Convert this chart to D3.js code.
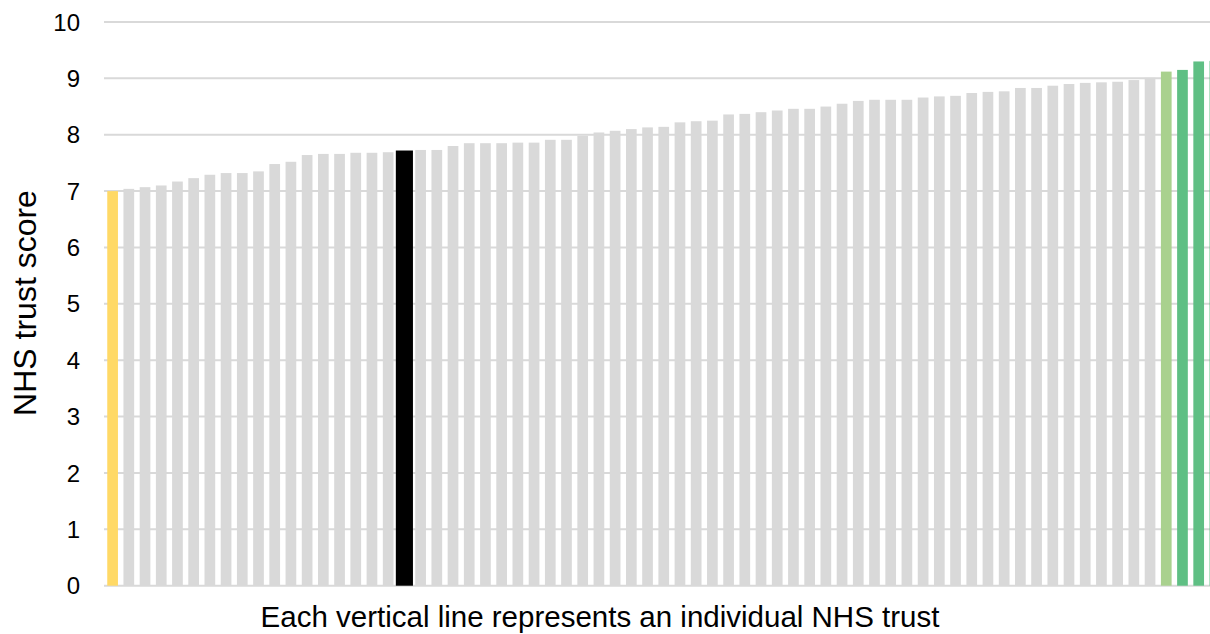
<!DOCTYPE html>
<html>
<head>
<meta charset="utf-8">
<script src="https://cdn.jsdelivr.net/npm/d3@7"></script>
<style>
html,body{margin:0;padding:0;background:#fff;overflow:hidden;}
svg{display:block;}
text{font-family:"Liberation Sans",Arial,sans-serif;fill:#000;}
</style>
</head>
<body>
<svg id="chart" width="1210" height="634"></svg>
<script>
// Data: NHS trust scores, sorted ascending (one bar per trust)
const scores = [
  7.00, 7.04, 7.07, 7.10, 7.17, 7.23, 7.29, 7.32, 7.32, 7.35,
  7.48, 7.52, 7.64, 7.66, 7.66, 7.68, 7.68, 7.69, 7.72, 7.73,
  7.73, 7.80, 7.85, 7.85, 7.85, 7.86, 7.86, 7.91, 7.91, 7.98,
  8.04, 8.07, 8.10, 8.13, 8.14, 8.22, 8.24, 8.25, 8.36, 8.37,
  8.40, 8.43, 8.46, 8.46, 8.50, 8.55, 8.60, 8.62, 8.62, 8.62,
  8.66, 8.68, 8.69, 8.74, 8.76, 8.77, 8.83, 8.83, 8.87, 8.90,
  8.92, 8.93, 8.94, 8.97, 9.01, 9.12, 9.15, 9.30, 9.31
];
const trusts = scores.map((_, i) => "Trust " + (i + 1));
// Highlight group for each trust (by position)
const groups = scores.map((_, i) =>
  i === 0 ? "lowest" :
  i === 18 ? "selected" :
  i === 65 ? "high" :
  i >= 66 ? "top" : "other");
const groupColors = { lowest: "#ffd966", selected: "#000000", high: "#a9d18e", top: "#5fbf84", other: "#d9d9d9" };
const yTicks = [0, 1, 2, 3, 4, 5, 6, 7, 8, 9, 10];
const yTitle = "NHS trust score";
const xTitle = "Each vertical line represents an individual NHS trust";

const svg = d3.select("#chart");
const x = d3.scaleBand().domain(trusts).range([104.5, 1223]).paddingInner(0.34).paddingOuter(0.17);
const y = d3.scaleLinear().domain([0, 10]).range([585.7, 22]);

// gridlines
svg.append("g").selectAll("line").data(yTicks).join("line")
  .attr("x1", 104).attr("x2", 1223)
  .attr("y1", d => y(d)).attr("y2", d => y(d))
  .attr("stroke", "#d9d9d9").attr("stroke-width", 2);

// y tick labels
svg.append("g").selectAll("text").data(yTicks).join("text")
  .attr("x", 80).attr("y", d => y(d))
  .attr("dy", "0.36em")
  .attr("text-anchor", "end")
  .style("font-size", "24px")
  .text(d => d);

// bars
const data = scores.map((v, i) => ({ name: trusts[i], value: v, group: groups[i] }));
svg.append("g").selectAll("rect").data(data).join("rect")
  .attr("x", d => d.group === "selected" ? x(d.name) - x.bandwidth() * 0.3 : x(d.name))
  .attr("width", d => d.group === "selected" ? x.bandwidth() * 1.6 : x.bandwidth())
  .attr("y", d => y(d.value))
  .attr("height", d => y(0) - y(d.value))
  .attr("fill", d => groupColors[d.group]);

// axis titles
svg.append("text")
  .attr("transform", "translate(36,303) rotate(-90)")
  .attr("text-anchor", "middle")
  .style("font-size", "32px")
  .text(yTitle);

svg.append("text")
  .attr("x", 600).attr("y", 627)
  .attr("text-anchor", "middle")
  .style("font-size", "29.5px")
  .text(xTitle);
</script>
</body>
</html>
